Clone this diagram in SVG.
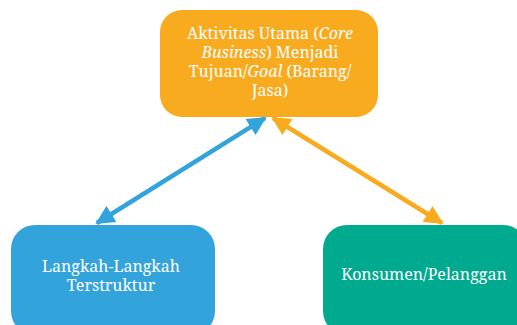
<svg xmlns="http://www.w3.org/2000/svg" width="517" height="325" viewBox="0 0 517 325">
<style>
text{font-family:"Noto Serif","DejaVu Serif","Liberation Serif",serif;font-size:16px;fill:#ffffff;text-anchor:middle}
</style>
<defs>
<marker id="ab" viewBox="0 0 10 10" refX="9" refY="5" markerWidth="4.4" markerHeight="4.2" orient="auto-start-reverse" markerUnits="strokeWidth"><path d="M0,0 L10,5 L0,10 z" fill="#33a3dc"/></marker>
<marker id="ao" viewBox="0 0 10 10" refX="9" refY="5" markerWidth="4.4" markerHeight="4.2" orient="auto-start-reverse" markerUnits="strokeWidth"><path d="M0,0 L10,5 L0,10 z" fill="#f9ab20"/></marker>
</defs>
<rect width="517" height="325" fill="#ffffff"/>
<g id="connectors">
<line x1="97" y1="223" x2="265" y2="118" stroke="#33a3dc" stroke-width="4.5" marker-start="url(#ab)" marker-end="url(#ab)"/>
<line x1="273" y1="118" x2="442" y2="223" stroke="#f9ab20" stroke-width="4.5" marker-start="url(#ao)" marker-end="url(#ao)"/>
</g>
<g id="core">
<rect x="160" y="10" width="218" height="107" rx="22" fill="#f9ab20"/>
<text x="270" y="39">Aktivitas Utama (<tspan font-style="italic">Core</tspan></text>
<text x="270" y="58"><tspan font-style="italic">Business</tspan>) Menjadi</text>
<text x="270" y="77">Tujuan/<tspan font-style="italic">Goal</tspan> (Barang/</text>
<text x="270" y="96">Jasa)</text>
</g>
<g id="langkah">
<rect x="11" y="225" width="204" height="110" rx="24" fill="#33a3dc"/>
<text x="111" y="272">Langkah-Langkah</text>
<text x="111" y="291">Terstruktur</text>
</g>
<g id="konsumen">
<rect x="323" y="225" width="204" height="110" rx="24" fill="#00aa8f"/>
<text x="424" y="280">Konsumen/Pelanggan</text>
</g>
</svg>
